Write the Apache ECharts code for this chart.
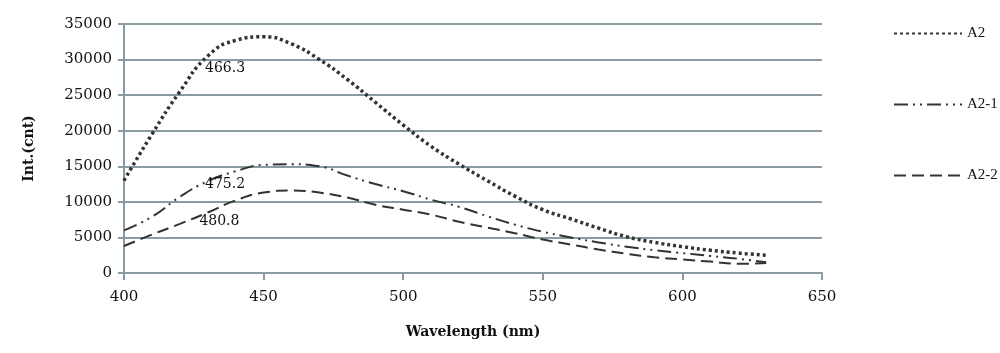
<!DOCTYPE html>
<html>
<head>
<meta charset="utf-8">
<script src="https://cdn.jsdelivr.net/npm/echarts@6/dist/echarts.min.js"></script>
<style>
  html, body { margin: 0; padding: 0; background: #fff; }
  #chart { width: 1000px; height: 353px; }
</style>
</head>
<body>
<div id="chart"></div>
<script>
// wavelength (nm)
const wavelengths = [400, 410, 420, 430, 440, 450, 460, 470, 480, 490, 500, 510,
  520, 530, 540, 550, 560, 570, 580, 590, 600, 610, 620, 630];

// intensity (cnt)
const a2 = [13000, 19500, 25500, 30500, 32700, 33200, 32200, 30000, 27200, 24000, 20800, 17800,
  15300, 13000, 10800, 8900, 7600, 6300, 5100, 4300, 3700, 3200, 2800, 2500];
const a2_1 = [6000, 7900, 10700, 12900, 14300, 15200, 15300, 15000, 13700, 12500, 11500, 10300,
  9300, 8000, 6800, 5800, 5000, 4300, 3700, 3200, 2800, 2400, 2000, 1500];
const a2_2 = [3800, 5400, 6900, 8500, 10200, 11300, 11600, 11300, 10600, 9600, 8900, 8200,
  7200, 6400, 5600, 4700, 4000, 3300, 2700, 2200, 1900, 1600, 1300, 1400];

const seriesNames = ['A2', 'A2-1', 'A2-2'];
const xTicks = [400, 450, 500, 550, 600, 650];
const yTicks = [0, 5000, 10000, 15000, 20000, 25000, 30000, 35000];

// peak annotations: text, anchor [wavelength, intensity]
const peakLabels = ['466.3', '475.2', '480.8'];
const peakAnchors = [[429, 28700], [429, 12400], [427, 7200]];

const gridColor = '#8a9ca1';
const serif = '"DejaVu Serif", serif';

const chart = echarts.init(document.getElementById('chart'));

const pairs = (ys) => wavelengths.map((x, i) => [x, ys[i]]);

const dashes = [[3, 3], [14, 5, 2, 5, 2, 5], [12, 6]];
const datas = [a2, a2_1, a2_2];

const option = {
  animation: false,
  grid: { left: 124, right: 178, top: 24, bottom: 80 },
  legend: {
    orient: 'vertical',
    left: 888,
    top: 21,
    itemWidth: 68,
    itemHeight: 14,
    itemGap: 56,
    data: seriesNames,
    itemStyle: { opacity: 0 },
    textStyle: { fontFamily: '"Liberation Serif", serif', fontSize: 15, color: '#111' }
  },
  xAxis: {
    type: 'value',
    min: xTicks[0],
    max: xTicks[xTicks.length - 1],
    interval: 50,
    name: 'Wavelength (nm)',
    nameLocation: 'middle',
    nameGap: 52,
    nameTextStyle: { fontFamily: serif, fontWeight: 'bold', fontSize: 14, color: '#111' },
    axisLine: { show: true, lineStyle: { color: gridColor, width: 2 } },
    axisTick: { show: true, length: 7, lineStyle: { color: gridColor, width: 2 } },
    axisLabel: { fontFamily: serif, fontSize: 15, color: '#111', margin: 17 },
    splitLine: { show: false }
  },
  yAxis: {
    type: 'value',
    min: yTicks[0],
    max: yTicks[yTicks.length - 1],
    interval: 5000,
    name: 'Int.(cnt)',
    nameLocation: 'middle',
    nameGap: 88,
    nameTextStyle: { fontFamily: serif, fontWeight: 'bold', fontSize: 14, color: '#111' },
    axisLine: { show: true, lineStyle: { color: gridColor, width: 2 } },
    axisTick: { show: true, length: 6, lineStyle: { color: gridColor, width: 2 } },
    axisLabel: { fontFamily: serif, fontSize: 15, color: '#111', margin: 12, formatter: (v) => String(v) },
    splitLine: { show: true, lineStyle: { color: gridColor, width: 2 } }
  },
  series: seriesNames.map((name, i) => ({
    name: name,
    type: 'line',
    smooth: true,
    symbol: 'none',
    data: pairs(datas[i]),
    lineStyle: { color: '#333', width: i === 0 ? 3.5 : 2, type: dashes[i] },
    itemStyle: { color: '#333' },
    markPoint: {
      symbol: 'circle',
      symbolSize: 0,
      data: [{
        coord: peakAnchors[i],
        label: {
          show: true,
          position: 'right',
          distance: 0,
          formatter: peakLabels[i],
          fontFamily: serif,
          fontSize: 14,
          color: '#111'
        }
      }]
    }
  }))
};

chart.setOption(option);
</script>
</body>
</html>
